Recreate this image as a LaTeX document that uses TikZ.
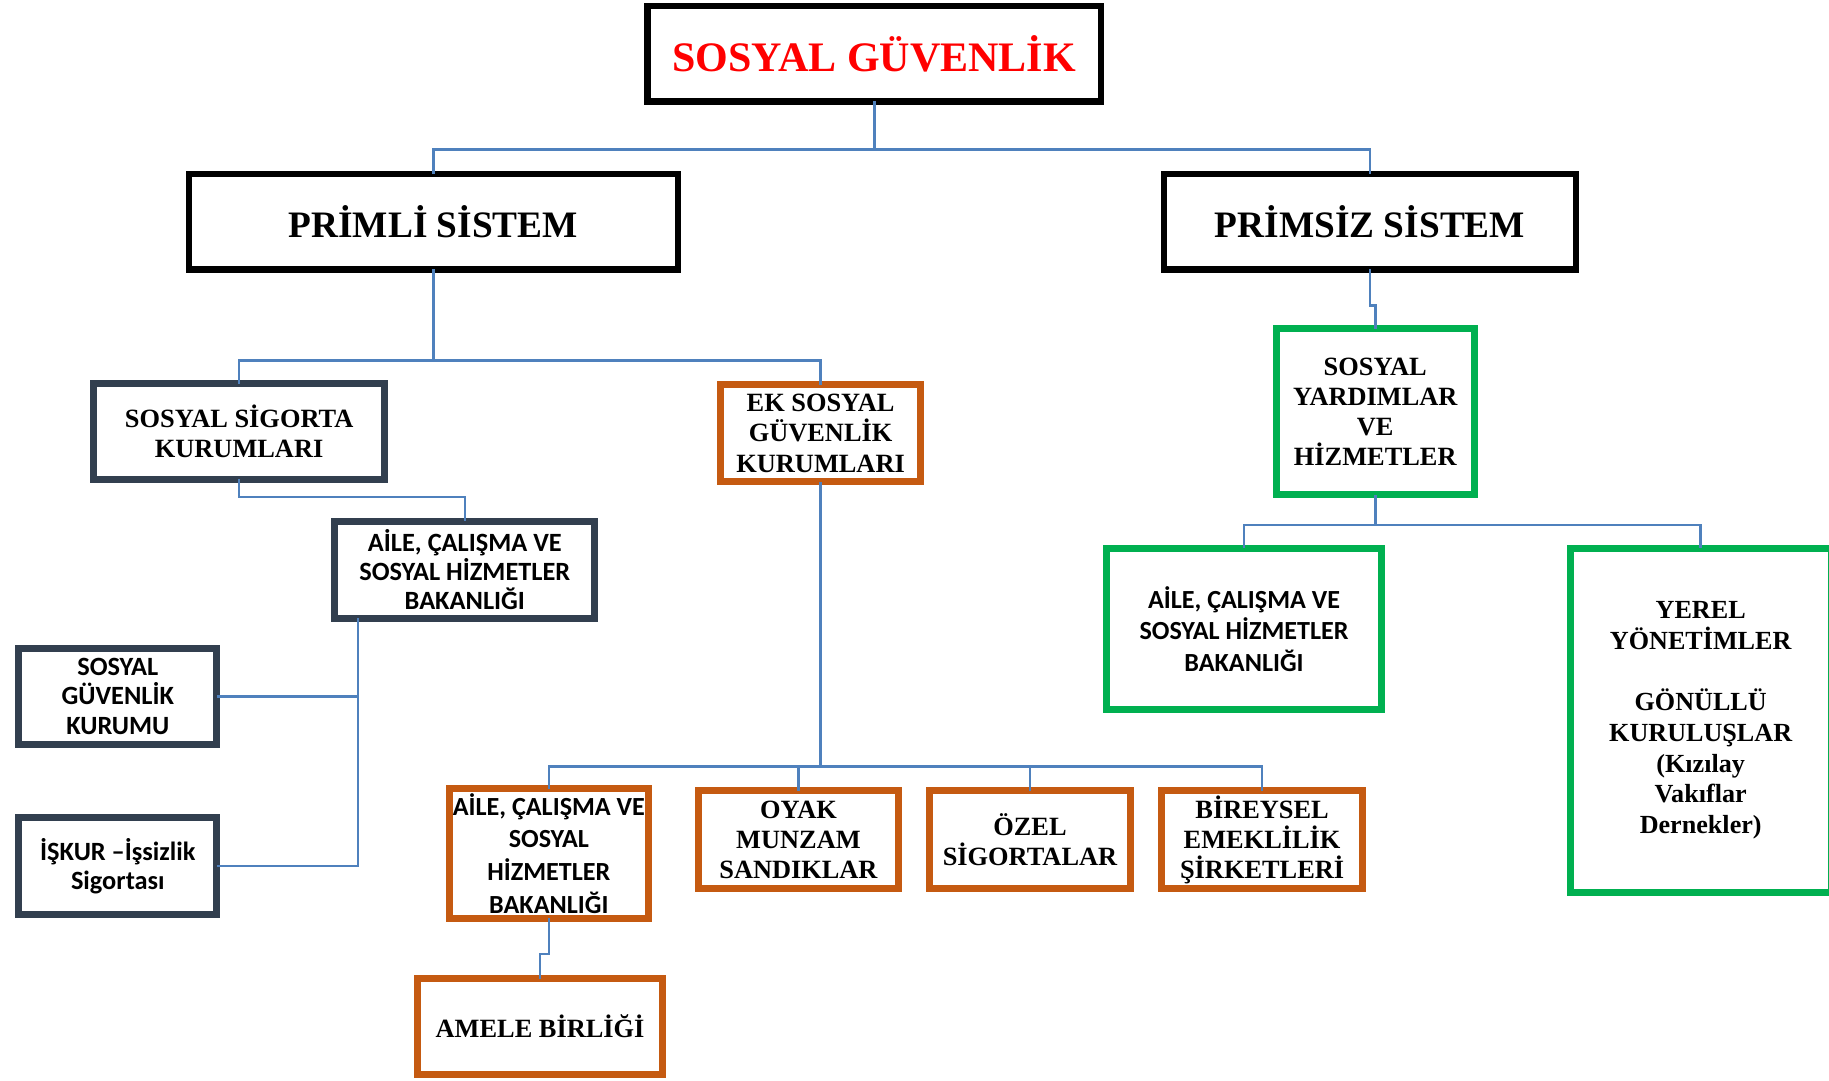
\documentclass[tikz,border=0pt]{standalone}
\usepackage{fontspec}
\setmainfont{Liberation Serif}
\newfontfamily\calfont{Carlito}
\usetikzlibrary{calc}
\definecolor{slate}{RGB}{50,63,79}
\definecolor{orng}{RGB}{197,90,17}
\definecolor{grn}{RGB}{0,176,80}
\definecolor{conblue}{RGB}{79,129,189}
\definecolor{tred}{RGB}{255,0,0}
\tikzset{
 box/.style={draw, line width=3pt, fill=white, inner sep=0pt, outer sep=0pt, align=center, font=\bfseries\fontsize{11.3}{13}\selectfont},
 blackbox/.style={box, draw=black, line width=2.75pt},
 slatebox/.style={box, draw=slate},
 orangebox/.style={box, draw=orng},
 greenbox/.style={box, draw=grn},
 cal/.style={font=\calfont\bfseries\fontsize{11.3}{12.5}\selectfont},
 conn/.style={draw=conblue, line width=1.1pt},
}
\newcommand\bnode[7]{%
 \pgfmathsetmacro\bnX{(#3+#5)/2}%
 \pgfmathsetmacro\bnY{(#4+#6)/2}%
 \pgfmathsetmacro\bnW{((#5-#3)-6)*0.5}%
 \pgfmathsetmacro\bnH{((#6-#4)-6)*0.5}%
 \node[#2, minimum width=\bnW pt, minimum height=\bnH pt] (#1) at (\bnX,\bnY) {#7};}
\begin{document}
\begin{tikzpicture}[x=0.5pt,y=-0.5pt]
\useasboundingbox (0,0) rectangle (1568,926);
\clip (0,0) rectangle (1568,926);
\fill[white] (0,0) rectangle (1568,926);
% nodes
\bnode{title}{blackbox, text=tred, font=\bfseries\fontsize{18}{20}\selectfont}{552}{2}{947}{90}{SOSYAL GÜVENLİK}
\bnode{primli}{blackbox, font=\bfseries\fontsize{16}{18}\selectfont}{159}{146}{584}{234}{PRİMLİ SİSTEM}
\bnode{primsiz}{blackbox, font=\bfseries\fontsize{16}{18}\selectfont}{995}{146}{1354}{234}{PRİMSİZ SİSTEM}
\bnode{ssk}{slatebox}{77}{326}{333}{414}{SOSYAL SİGORTA\\KURUMLARI}
\bnode{aile1}{slatebox, cal}{284}{444}{513}{533}{AİLE, ÇALIŞMA VE\\SOSYAL HİZMETLER\\BAKANLIĞI}
\bnode{sgk}{slatebox, cal}{13}{553}{189}{641}{SOSYAL\\GÜVENLİK\\KURUMU}
\bnode{iskur}{slatebox, cal}{13}{698}{189}{787}{İŞKUR –İşsizlik\\Sigortası}
\bnode{ek}{orangebox}{615}{327}{792}{416}{EK SOSYAL\\GÜVENLİK\\KURUMLARI}
\bnode{aile2}{orangebox, font=\calfont\bfseries\fontsize{11.2}{14}\selectfont}{382}{673}{559}{790}{AİLE, ÇALIŞMA VE\\SOSYAL\\HİZMETLER\\BAKANLIĞI}
\bnode{amele}{orangebox}{355}{836}{571}{924}{AMELE BİRLİĞİ}
\bnode{oyak}{orangebox}{596}{675}{773}{765}{OYAK\\MUNZAM\\SANDIKLAR}
\bnode{ozel}{orangebox}{794}{675}{972}{765}{ÖZEL\\SİGORTALAR}
\bnode{bes}{orangebox}{993}{675}{1171}{765}{BİREYSEL\\EMEKLİLİK\\ŞİRKETLERİ}
\bnode{sy}{greenbox}{1091}{279}{1267}{427}{SOSYAL\\YARDIMLAR\\VE\\HİZMETLER}
\bnode{aile3}{greenbox, font=\calfont\bfseries\fontsize{11.2}{13.5}\selectfont}{946}{467}{1187}{611}{AİLE, ÇALIŞMA VE\\SOSYAL HİZMETLER\\BAKANLIĞI}
\bnode{yerel}{greenbox, font=\bfseries\fontsize{11.2}{13.2}\selectfont}{1343}{467}{1573}{768}{YEREL\\YÖNETİMLER\\[13pt]GÖNÜLLÜ\\KURULUŞLAR\\(Kızılay\\Vakıflar\\Dernekler)}
% connectors
\draw[conn] (title.south) -- ++(0,41) coordinate (tj);
\draw[conn] (tj) -| (primli.north);
\draw[conn] (tj) -| (primsiz.north);
\draw[conn] (primli.south) -- ++(0,78) coordinate (pj);
\draw[conn] (pj) -| (ssk.north);
\draw[conn] (pj) -| (ek.north);
\draw[conn] (ssk.south) -- ++(0,15) -| (aile1.north);
\coordinate (a1) at ($(aile1.south west)+(20,0)$);
\draw[conn] (a1) |- (sgk.east);
\draw[conn] (a1) |- (iskur.east);
\draw[conn] (ek.south) -- ++(0,244) coordinate (ej);
\draw[conn] (ej) -| (aile2.north);
\draw[conn] (ej) -| (oyak.north);
\draw[conn] (ej) -| (ozel.north);
\draw[conn] (ej) -| (bes.north);
\draw[conn] (aile2.south) -- ++(0,31) -| (amele.north);
\draw[conn] (primsiz.south) -- ++(0,31) -| (sy.north);
\draw[conn] (sy.south) -- ++(0,26) coordinate (sj);
\draw[conn] (sj) -| (aile3.north);
\draw[conn] (sj) -| (yerel.north);
\end{tikzpicture}
\end{document}
